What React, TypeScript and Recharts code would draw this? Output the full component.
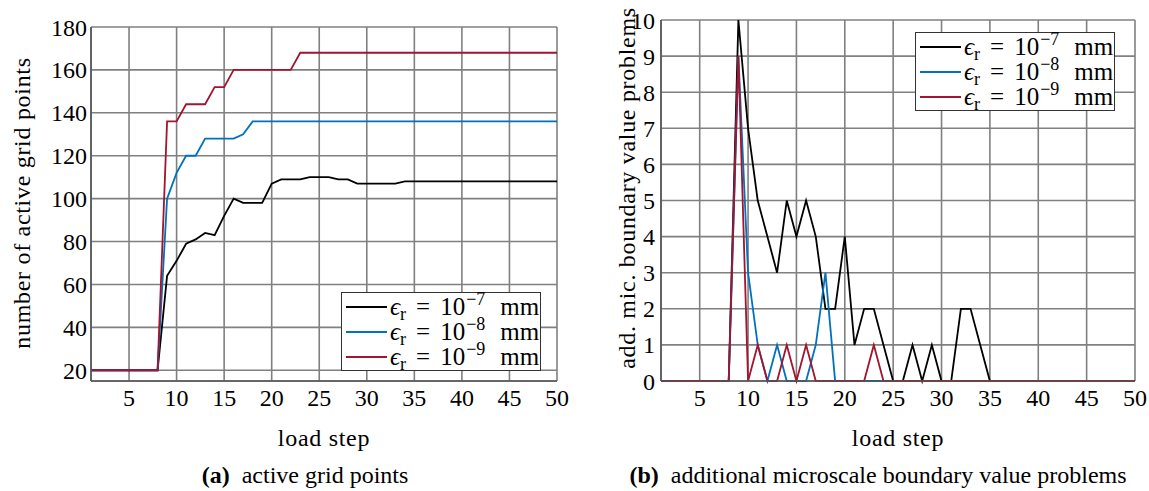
import React from 'react';
import { LineChart, Line, XAxis, YAxis, CartesianGrid, Legend, Label } from 'recharts';

const loadSteps = [
  1, 2, 3, 4, 5, 6, 7, 8, 9, 10, 11, 12, 13, 14, 15, 16, 17, 18, 19, 20, 21, 22, 23, 24, 25,
  26, 27, 28, 29, 30, 31, 32, 33, 34, 35, 36, 37, 38, 39, 40, 41, 42, 43, 44, 45, 46, 47, 48, 49, 50,
];

// (a) active grid points
const gridPointsE7 = [
  20, 20, 20, 20, 20, 20, 20, 20, 64, 71, 79, 81, 84, 83, 92, 100, 98, 98, 98, 107, 109, 109, 109, 110, 110,
  110, 109, 109, 107, 107, 107, 107, 107, 108, 108, 108, 108, 108, 108, 108, 108, 108, 108, 108, 108, 108, 108, 108, 108, 108,
];
const gridPointsE8 = [
  20, 20, 20, 20, 20, 20, 20, 20, 100, 112, 120, 120, 128, 128, 128, 128, 130, 136, 136, 136, 136, 136, 136, 136, 136,
  136, 136, 136, 136, 136, 136, 136, 136, 136, 136, 136, 136, 136, 136, 136, 136, 136, 136, 136, 136, 136, 136, 136, 136, 136,
];
const gridPointsE9 = [
  20, 20, 20, 20, 20, 20, 20, 20, 136, 136, 144, 144, 144, 152, 152, 160, 160, 160, 160, 160, 160, 160, 168, 168, 168,
  168, 168, 168, 168, 168, 168, 168, 168, 168, 168, 168, 168, 168, 168, 168, 168, 168, 168, 168, 168, 168, 168, 168, 168, 168,
];

// (b) additional microscale boundary value problems
const problemsE7 = [
  0, 0, 0, 0, 0, 0, 0, 0, 10, 7, 5, 4, 3, 5, 4, 5, 4, 2, 2, 4, 1, 2, 2, 1, 0,
  0, 1, 0, 1, 0, 0, 2, 2, 1, 0, 0, 0, 0, 0, 0, 0, 0, 0, 0, 0, 0, 0, 0, 0, 0,
];
const problemsE8 = [
  0, 0, 0, 0, 0, 0, 0, 0, 9, 3, 1, 0, 1, 0, 0, 0, 1, 3, 0, 0, 0, 0, 0, 0, 0,
  0, 0, 0, 0, 0, 0, 0, 0, 0, 0, 0, 0, 0, 0, 0, 0, 0, 0, 0, 0, 0, 0, 0, 0, 0,
];
const problemsE9 = [
  0, 0, 0, 0, 0, 0, 0, 0, 9, 0, 1, 0, 0, 1, 0, 1, 0, 0, 0, 0, 0, 0, 1, 0, 0,
  0, 0, 0, 0, 0, 0, 0, 0, 0, 0, 0, 0, 0, 0, 0, 0, 0, 0, 0, 0, 0, 0, 0, 0, 0,
];

const stepTicks = [5, 10, 15, 20, 25, 30, 35, 40, 45, 50];
const gridPointTicks = [20, 40, 60, 80, 100, 120, 140, 160, 180];
const problemTicks = [0, 1, 2, 3, 4, 5, 6, 7, 8, 9, 10];
const exponents = ['−7', '−8', '−9'];
const colors = ['#000000', '#0072BD', '#A2142F'];

const gridData = loadSteps.map((step, i) => ({
  step, e7: gridPointsE7[i], e8: gridPointsE8[i], e9: gridPointsE9[i],
}));
const problemData = loadSteps.map((step, i) => ({
  step, e7: problemsE7[i], e8: problemsE8[i], e9: problemsE9[i],
}));

const font = '"Liberation Serif", "Times New Roman", serif';
const tickStyle = { fontFamily: font, fontSize: 24, fill: '#000' };
const titleStyle = { fontFamily: font, fontSize: 24, fill: '#000', letterSpacing: 0.7 };

const LegendBox = ({ payload }: any) => (
  <div style={{ border: '1.5px solid #333', background: '#fff', padding: '1px 0 1px 4px', fontFamily: font, fontSize: 25 }}>
    {(payload || []).map((entry: any, i: number) => (
      <div key={i} style={{ display: 'flex', alignItems: 'center', height: 25, whiteSpace: 'nowrap' }}>
        <span style={{ display: 'inline-block', width: 41, borderTop: `2px solid ${entry.color}`, marginRight: 3 }} />
        <span>
          <span style={{ fontStyle: 'italic' }}>ϵ</span>
          <span style={{ fontSize: 18, position: 'relative', top: 5 }}>r</span>
          <span style={{ margin: '0 10px' }}>=</span>
          10
          <span style={{ fontSize: 18, position: 'relative', top: -10, marginLeft: 1 }}>{exponents[i]}</span>
          <span style={{ marginLeft: 15, marginRight: 1 }}>mm</span>
        </span>
      </div>
    ))}
  </div>
);

const yTitle = (text: string, x: number, y: number) => () => (
  <text x={x} y={y} transform={`rotate(-90 ${x} ${y})`} textAnchor="middle" dominantBaseline="central" style={titleStyle}>
    {text}
  </text>
);

const xTitle = (x: number) => () => (
  <text x={x} y={446} textAnchor="middle" style={titleStyle}>
    load step
  </text>
);

const series = (
  ['e7', 'e8', 'e9'].map((key, i) => (
    <Line key={key} type="linear" dataKey={key} name={`ϵr = 10${exponents[i]} mm`} stroke={colors[i]}
      strokeWidth={1.8} dot={false} activeDot={false} isAnimationActive={false} />
  ))
);

const App: React.FC = () => {
  return (
    <div style={{ position: 'absolute', left: 0, top: 0, width: 1149, height: 491, background: '#fff' }}>
      <div style={{ position: 'absolute', left: 0, top: 0 }}>
        <LineChart width={575} height={460} data={gridData} margin={{ top: 27, right: 18, bottom: 14, left: 10 }}>
          <CartesianGrid stroke="#808080" strokeWidth={1.6} />
          <XAxis dataKey="step" type="number" domain={[1, 50]} ticks={stepTicks} height={65}
            tickSize={0} tickMargin={8} tick={tickStyle} stroke="#555" strokeWidth={1.6}>
            <Label content={xTitle(324)} />
          </XAxis>
          <YAxis type="number" domain={[15, 180]} ticks={gridPointTicks} width={81}
            tickSize={0} tickMargin={4} tick={tickStyle} stroke="#555" strokeWidth={1.6}>
            <Label content={yTitle('number of active grid points', 22, 203)} />
          </YAxis>
          <Legend content={<LegendBox />} layout="vertical" align="center" verticalAlign="middle"
            wrapperStyle={{ left: 341, top: 292, width: 'auto' }} />
          {series}
        </LineChart>
      </div>
      <div style={{ position: 'absolute', left: 575, top: 0 }}>
        <LineChart width={574} height={460} data={problemData} margin={{ top: 20, right: 14, bottom: 14, left: 10 }}>
          <CartesianGrid stroke="#808080" strokeWidth={1.6} />
          <XAxis dataKey="step" type="number" domain={[1, 50]} ticks={stepTicks} height={65}
            tickSize={0} tickMargin={8} tick={tickStyle} stroke="#555" strokeWidth={1.6}>
            <Label content={xTitle(323)} />
          </XAxis>
          <YAxis type="number" domain={[0, 10]} ticks={problemTicks} width={76}
            tickSize={0} tickMargin={6} tick={tickStyle} stroke="#555" strokeWidth={1.6}>
            <Label content={yTitle('add. mic. boundary value problems', 52, 188)} />
          </YAxis>
          <Legend content={<LegendBox />} layout="vertical" align="center" verticalAlign="middle"
            wrapperStyle={{ left: 340, top: 32, width: 'auto' }} />
          {series}
        </LineChart>
      </div>
      <div style={{ position: 'absolute', left: 0, top: 463, width: 610, textAlign: 'center', fontFamily: font, fontSize: 24, lineHeight: '24px' }}>
        <b>(a)</b>&nbsp; active grid points
      </div>
      <div style={{ position: 'absolute', left: 578, top: 463, width: 600, textAlign: 'center', fontFamily: font, fontSize: 24, lineHeight: '24px' }}>
        <b>(b)</b>&nbsp; additional microscale boundary value problems
      </div>
    </div>
  );
};

export default App;
